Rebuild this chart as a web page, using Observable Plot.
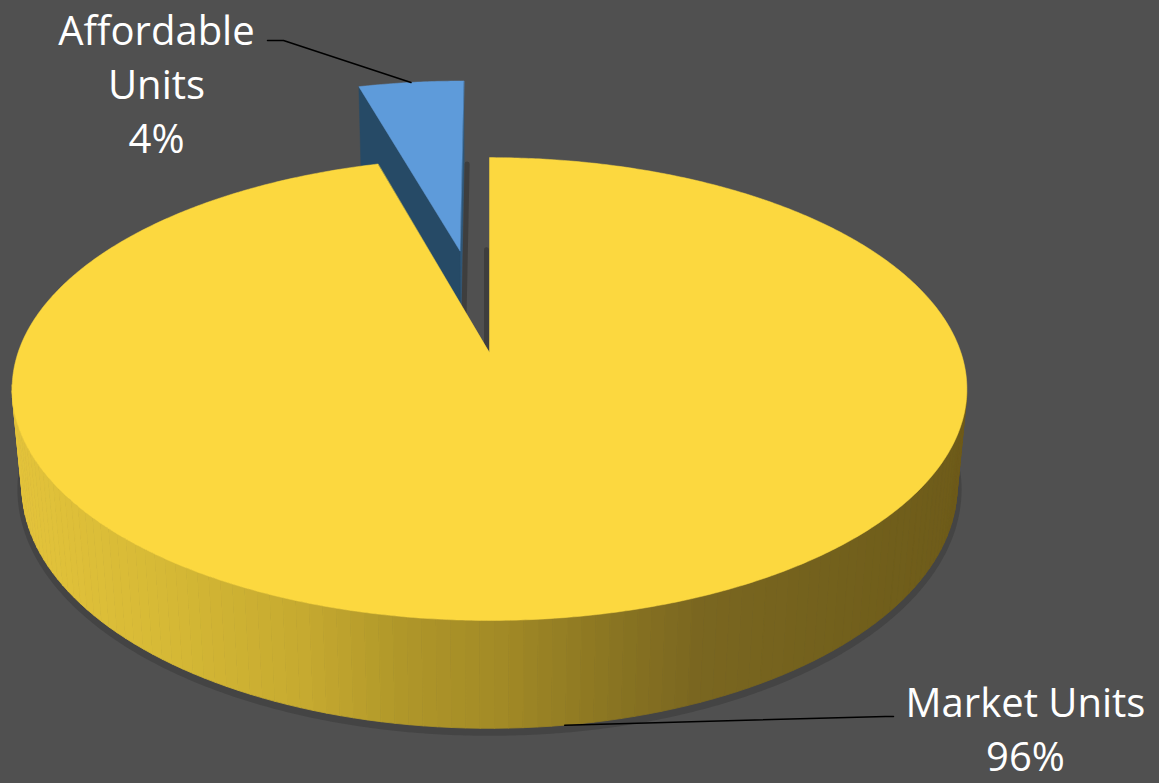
<!DOCTYPE html>
<html><head><meta charset="utf-8">
<script src="https://cdn.jsdelivr.net/npm/d3@7"></script>
<script src="https://cdn.jsdelivr.net/npm/@observablehq/plot@0.6"></script>
<style>
html,body{margin:0;padding:0;background:#505050;overflow:hidden}
#chart{width:1159px;height:783px}
</style></head><body><div id="chart"></div>
<script>
// ---------------- DATA ----------------
const categories = ["Market Units", "Affordable Units"];
const shares = [95.6, 4.4];             // percent of units (angles)
const shareLabels = ["96%", "4%"];
const explode = [0, 0.49];              // radial explosion, fraction of radius

// ---------------- STYLE / LAYOUT ----------------
const W = 1159, H = 783;
const topColors = ["#FCD83F", "#5E9BDA"];
const faceColors = ["#9C8424", "#264A66"];
const wallShade = d3.scaleLinear()
  .domain([12, 150, 300, 400, 500, 600, 700, 850, 967])
  .range(["#E3C33B", "#D7BA36", "#C6AA30", "#B09729", "#A28A26", "#8C7722", "#7A6620", "#72601C", "#6E5B19"])
  .clamp(true);
// camera / projection of the 3-D disc (radius 1, thickness T)
const CX = 489, CY = 352, F = 2621, D = 5.56, PHI = 28.6 * Math.PI / 180, T = 0.238;
const sp = Math.sin(PHI), cp = Math.cos(PHI);
function P(X, Y, Z) {
  const Yc = Y * sp + Z * cp;
  const Zc = Y * cp - Z * sp + D;
  return [CX + F * X / Zc, CY - F * Yc / Zc];
}
const labelAt = {"Market Units": [1025, 726], "Affordable Units": [156, 81]};
const leaderElbow = {"Market Units": [[885, 716], [893, 716]], "Affordable Units": [[283, 40], [267, 40]]};

// ---------------- GEOMETRY from data ----------------
const deg = Math.PI / 180;
const total = d3.sum(shares);
let acc = 0;
const slices = categories.map((c, i) => {
  const a0 = acc / total * 360; acc += shares[i]; const a1 = acc / total * 360;
  const mid = (a0 + a1) / 2;
  return {i, c, a0, a1, mid, ox: explode[i] * Math.sin(mid * deg), oy: explode[i] * Math.cos(mid * deg)};
});
const pt = (s, th, r, Z) => P(s.ox + r * Math.sin(th * deg), s.oy + r * Math.cos(th * deg), Z);
const arc = (s, a0, a1, r, Z) => {
  const n = Math.max(2, Math.ceil(Math.abs(a1 - a0) / 0.5));
  return d3.range(n + 1).map(k => pt(s, a0 + (a1 - a0) * k / n, r, Z));
};
let pid = 0;
const toRows = (pts, fill) => { const id = pid++; return pts.map(([x, y]) => ({id, x, y, fill})); };

const mkt = slices[0], aff = slices[1];

// blue (affordable) slice: radial faces + top
const blueRows = [
  ...toRows([pt(aff, aff.a1, 0, 0), pt(aff, aff.a1, 1, 0), pt(aff, aff.a1, 1, -T), pt(aff, aff.a1, 0, -T)], "#2E5779"),
  ...toRows([pt(aff, aff.a0, 0, 0), pt(aff, aff.a0, 1, 0), pt(aff, aff.a0, 1, -T), pt(aff, aff.a0, 0, -T)], faceColors[1]),
  ...toRows([pt(aff, 0, 0, 0), ...arc(aff, aff.a0, aff.a1, 1, 0)], topColors[1])
];
// yellow (market) wall strips, front facing only
const wallRows = [];
const step = 1.5;
for (let th = Math.max(mkt.a0, 100); th < Math.min(mkt.a1, 262); th += step) {
  const t2 = Math.min(th + step, 262);
  const q = [pt(mkt, th, 1, 0), pt(mkt, t2, 1, 0), pt(mkt, t2, 1, -T), pt(mkt, th, 1, -T)];
  const xm = (q[0][0] + q[1][0]) / 2;
  wallRows.push(...toRows(q, wallShade(xm)));
}
const yellowTop = toRows([pt(mkt, 0, 0, 0), ...arc(mkt, mkt.a0, mkt.a1, 1, 0)], topColors[0]);

// shadows
const bottomShadow = arc(mkt, 95, 265, 1, -T).map(([x, y]) => ({x, y}));
const gapShadow1 = [pt(aff, aff.a1, 0.05, -T), pt(aff, aff.a1, 1, -T)].map(([x, y]) => ({x, y}));
const gapShadow2 = [pt(mkt, 0, 0.02, 0), pt(mkt, 0, explode[1], 0)].map(([x, y]) => ({x, y}));

// leader lines & labels
const anchors = [pt(mkt, mkt.mid, 1, -T), pt(aff, aff.mid, 1, 0)];
const leaderRows = slices.flatMap((s, i) => [anchors[i], ...leaderElbow[s.c]].map(([x, y]) => ({id: i, x, y})));
const labelRows = slices.map((s, i) => ({x: labelAt[s.c][0], y: labelAt[s.c][1], text: s.c + "\n" + shareLabels[i]}));

const chart = Plot.plot({
  width: W, height: H, margin: 0,
  x: {domain: [0, W], range: [0, W], axis: null},
  y: {domain: [0, H], range: [0, H], axis: null},
  color: {type: "identity"},
  style: {background: "#505050", fontFamily: "'Open Sans', sans-serif"},
  marks: [
    Plot.line(bottomShadow, {x: "x", y: "y", stroke: "#3a3a3a", strokeWidth: 9, strokeOpacity: 0.55, dy: 3}),
    Plot.line(blueRows, {x: "x", y: "y", z: "id", fill: "fill", stroke: "fill", strokeWidth: 0.5, curve: "linear-closed"}),
    Plot.line(gapShadow1, {x: "x", y: "y", stroke: "#3b3b3b", strokeWidth: 5, strokeOpacity: 0.85, dx: 3}),
    Plot.line(gapShadow2, {x: "x", y: "y", stroke: "#3b3b3b", strokeWidth: 5, strokeOpacity: 0.85, dx: -3}),
    Plot.line(wallRows, {x: "x", y: "y", z: "id", fill: "fill", stroke: "fill", strokeWidth: 0.8, curve: "linear-closed"}),
    Plot.line(yellowTop, {x: "x", y: "y", z: "id", fill: "fill", stroke: "fill", strokeWidth: 0.5, curve: "linear-closed"}),
    Plot.line(leaderRows, {x: "x", y: "y", z: "id", stroke: "black", strokeWidth: 1.5}),
    Plot.text(labelRows, {x: "x", y: "y", text: "text", fill: "white", fontSize: 40, lineHeight: 1.35,
      lineWidth: 6.6, textAnchor: "middle", lineAnchor: "middle", fontFamily: "'Open Sans', sans-serif"})
  ]
});
document.getElementById("chart").appendChild(chart);
</script>
</body></html>
